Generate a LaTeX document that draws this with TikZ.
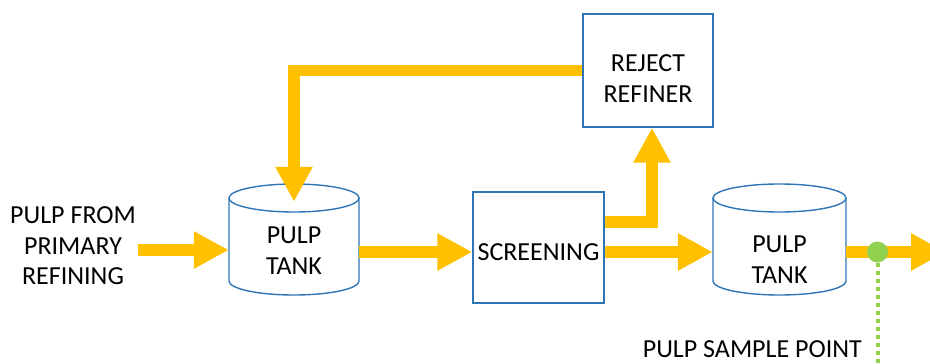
\documentclass[tikz,border=0pt]{standalone}
\usepackage{fontspec}
\setmainfont{Carlito}
\usetikzlibrary{arrows.meta,calc}

\definecolor{flowc}{HTML}{FFC000}
\definecolor{edgec}{HTML}{2E75B6}
\definecolor{probec}{HTML}{92D050}

\tikzset{
  flow/.style={draw=flowc, line width=11.5pt, line join=miter,
    -{Triangle[length=35pt,width=35pt]}},
  unitbox/.style={draw=edgec, line width=1.4pt, inner sep=0pt},
  tankbody/.style={inner sep=0pt, minimum height=86pt},
  tankline/.style={draw=edgec, line width=1.4pt},
  lbl/.style={inner sep=0pt, align=center, text=black,
    font=\fontsize{26pt}{30.5pt}\selectfont},
  probe/.style={circle, fill=probec, inner sep=0pt, minimum size=21pt},
  probeline/.style={draw=probec, line width=4pt, dash pattern=on 4pt off 4pt}
}

% cylinder outline around a tank body node: #1 node name, #2 half width
\newcommand\tankoutline[2]{%
  \draw[tankline] ($(#1.center)+(0pt,54pt)$) ellipse[x radius=#2, y radius=14pt];
  \draw[tankline] ($(#1.center)+(-#2,54pt)$) -- ($(#1.center)+(-#2,-29pt)$)
    arc[start angle=180, end angle=360, x radius=#2, y radius=14pt]
    -- ($(#1.center)+(#2,54pt)$);
}

\begin{document}
\begin{tikzpicture}[x=1pt, y=-1pt]
\useasboundingbox (0,0) rectangle (930,364);
\clip (0,0) rectangle (930,364);

% units
\node[unitbox, minimum width=130pt, minimum height=113pt] (rr) at (648,70.5) {};
\node[lbl] (rrl) at ($(rr.center)+(0pt,-8pt)$) {REJECT\\REFINER};

\node[unitbox, minimum width=131pt, minimum height=111pt] (sc) at (538.5,247.5) {};
\node[lbl] (scl) at ($(sc.center)+(0pt,-4.5pt)$) {SCREENING};

\node[tankbody, minimum width=130pt] (t1) at (294,252) {};
\tankoutline{t1}{65pt}
\node[lbl] (t1l) at ($(t1.center)+(0pt,1.5pt)$) {PULP\\TANK};

\node[tankbody, minimum width=133pt] (t2) at (779.5,252) {};
\tankoutline{t2}{66.5pt}
\node[lbl] (t2l) at ($(t2.center)+(0pt,-7.5pt)$) {PULP\\TANK};

% feed and sampling labels
\node[lbl] (feed) at (73,246) {PULP FROM\\PRIMARY\\REFINING};
\node[lbl, anchor=east] (spl) at (862,349) {PULP SAMPLE POINT};

\coordinate (feedstart) at (138,250);
\coordinate (t1top) at ($(t1.north)+(0pt,7pt)$);
\coordinate (outlet) at (946,252);

% pulp flow
\draw[flow] (feedstart) -- (feedstart -| t1.west);
\draw[flow] (t1.east) -- ([yshift=-4.5pt]sc.west);
\draw[flow] ([yshift=-4.5pt]sc.east) -- (t2.west);
\draw[flow] ([yshift=25.5pt]sc.east) -| ([xshift=4pt]rr.south);
\draw[flow] (rr.west) -| (t1top);
\draw[flow] (t2.east) -- (outlet);

% sample point
\node[probe] (sp) at (877.5,252) {};
\coordinate (spend) at (877.5,368);
\draw[probeline] (sp.south) -- (spend);
\end{tikzpicture}
\end{document}
